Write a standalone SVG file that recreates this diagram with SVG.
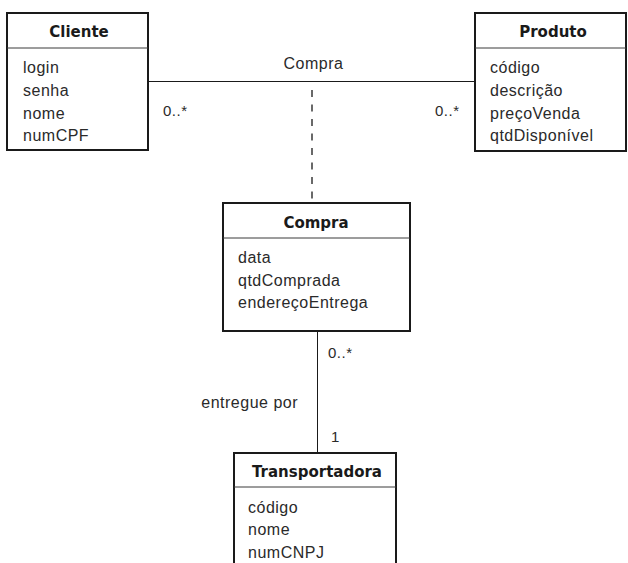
<svg xmlns="http://www.w3.org/2000/svg" width="628" height="563" viewBox="0 0 628 563">
  <style>
    .box { fill: #ffffff; stroke: #1a1a1a; stroke-width: 2; }
    .sep { stroke: #3a3a3a; stroke-width: 1; }
    .title { font-family: "DejaVu Sans", "Liberation Sans", sans-serif; font-weight: bold; font-size: 15px; fill: #1a1a1a; text-anchor: middle; }
    .attr { font-family: "Liberation Sans", Arial, sans-serif; font-size: 16px; letter-spacing: 0.5px; fill: #2a2a2a; }
    .label { font-family: "Liberation Sans", Arial, sans-serif; font-size: 16px; letter-spacing: 0.5px; fill: #2a2a2a; }
    .mult { font-family: "Liberation Sans", Arial, sans-serif; font-size: 15px; letter-spacing: 0.5px; fill: #2a2a2a; }
    .assoc { stroke: #1a1a1a; stroke-width: 1; fill: none; }
    .dash { stroke: #1a1a1a; stroke-width: 1.3; stroke-dasharray: 7 7.5; fill: none; }
  </style>
  <rect width="628" height="563" fill="#ffffff"/>

  <!-- associations -->
  <g id="connectors">
    <line class="assoc" x1="149" y1="81.5" x2="474" y2="81.5"/>
    <line class="dash" x1="312" y1="90" x2="312" y2="202"/>
    <line class="assoc" x1="317.5" y1="332" x2="317.5" y2="452"/>
    <text class="label" x="313.5" y="69" text-anchor="middle">Compra</text>
    <text class="mult" x="163" y="116">0..*</text>
    <text class="mult" x="435" y="116">0..*</text>
    <text class="mult" x="328" y="358">0..*</text>
    <text class="label" x="298" y="408" text-anchor="end">entregue por</text>
    <text class="mult" x="331" y="442">1</text>
  </g>

  <!-- classes -->
  <g id="cliente">
    <rect class="box" x="7" y="13" width="141" height="137"/>
    <line class="sep" x1="7" y1="48" x2="148" y2="48"/>
    <text class="title" x="79" y="37">Cliente</text>
    <text class="attr" x="23" y="73">login</text>
    <text class="attr" x="23" y="96">senha</text>
    <text class="attr" x="23" y="119">nome</text>
    <text class="attr" x="23" y="141">numCPF</text>
  </g>

  <g id="produto">
    <rect class="box" x="475" y="13" width="151" height="138"/>
    <line class="sep" x1="475" y1="48" x2="626" y2="48"/>
    <text class="title" x="553" y="37">Produto</text>
    <text class="attr" x="490" y="73">código</text>
    <text class="attr" x="490" y="96">descrição</text>
    <text class="attr" x="490" y="119">preçoVenda</text>
    <text class="attr" x="490" y="141">qtdDisponível</text>
  </g>

  <g id="compra">
    <rect class="box" x="223" y="203" width="187" height="128"/>
    <line class="sep" x1="223" y1="238" x2="410" y2="238"/>
    <text class="title" x="316" y="228">Compra</text>
    <text class="attr" x="238" y="263">data</text>
    <text class="attr" x="238" y="286">qtdComprada</text>
    <text class="attr" x="238" y="308">endereçoEntrega</text>
  </g>

  <g id="transportadora">
    <rect class="box" x="234" y="453" width="162" height="130"/>
    <line class="sep" x1="234" y1="487" x2="396" y2="487"/>
    <text class="title" x="317" y="477">Transportadora</text>
    <text class="attr" x="248" y="513">código</text>
    <text class="attr" x="248" y="535">nome</text>
    <text class="attr" x="248" y="558">numCNPJ</text>
  </g>
</svg>
